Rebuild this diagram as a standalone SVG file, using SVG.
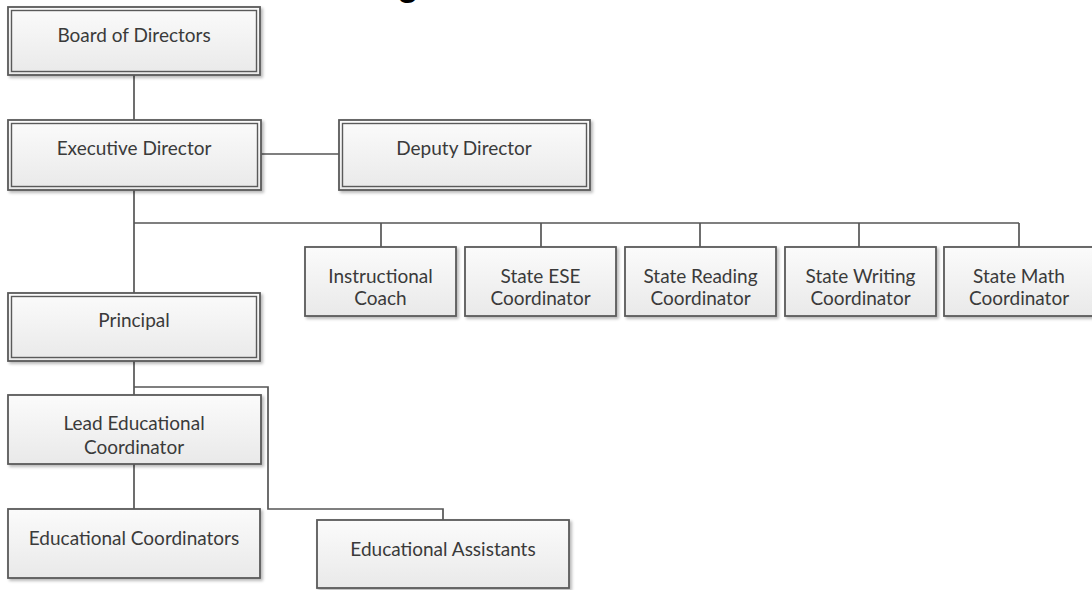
<svg xmlns="http://www.w3.org/2000/svg" width="1092" height="590" viewBox="0 0 1092 590">
  <defs>
    <linearGradient id="boxFill" x1="0" y1="0" x2="0" y2="1">
      <stop offset="0" stop-color="#fbfbfb"/>
      <stop offset="1" stop-color="#e9e9e9"/>
    </linearGradient>
    <filter id="shadow" x="-10%" y="-10%" width="125%" height="130%">
      <feDropShadow dx="2" dy="2" stdDeviation="1.5" flood-color="#000" flood-opacity="0.28"/>
    </filter>
    <style>
      .box { fill: url(#boxFill); stroke: #5a5a5a; stroke-width: 1.8; filter: url(#shadow); }
      .inner { fill: none; stroke: #5a5a5a; stroke-width: 1.4; }
      .label { font-family: Lato, "Liberation Sans", sans-serif; font-size: 19px; fill: #3a3a3a; text-anchor: middle; }
      .conn { fill: none; stroke: #555; stroke-width: 1.7; }
      .title { font-family: "Liberation Sans", Arial, sans-serif; font-weight: bold; font-size: 36px; fill: #000; }
    </style>
  </defs>

  <rect width="1092" height="590" fill="#fff"/>

  <!-- chart heading, sitting above the top edge -->
  <text class="title" x="397" y="-5">g</text>

  <!-- connectors -->
  <g id="connectors">
    <path class="conn" d="M134 75 V120"/>
    <path class="conn" d="M261 154 H339"/>
    <path class="conn" d="M134 190 V293"/>
    <path class="conn" d="M134 223 H1019"/>
    <path class="conn" d="M381 223 V247"/>
    <path class="conn" d="M541 223 V247"/>
    <path class="conn" d="M700 223 V247"/>
    <path class="conn" d="M859 223 V247"/>
    <path class="conn" d="M1019 223 V247"/>
    <path class="conn" d="M134 361 V395"/>
    <path class="conn" d="M134 387 H268 V509 H443 V520"/>
    <path class="conn" d="M134 464 V509"/>
  </g>

  <!-- double-bordered leadership boxes -->
  <g id="board">
    <rect class="box" x="8" y="7" width="252" height="68"/>
    <rect class="inner" x="11.5" y="10.5" width="245" height="61"/>
    <text class="label" x="134" y="42">Board of Directors</text>
  </g>
  <g id="executive">
    <rect class="box" x="8" y="120" width="253" height="70"/>
    <rect class="inner" x="11.5" y="123.5" width="246" height="63"/>
    <text class="label" x="134" y="155">Executive Director</text>
  </g>
  <g id="deputy">
    <rect class="box" x="339" y="120" width="251" height="70"/>
    <rect class="inner" x="342.5" y="123.5" width="244" height="63"/>
    <text class="label" x="464" y="155">Deputy Director</text>
  </g>
  <g id="principal">
    <rect class="box" x="8" y="293" width="252" height="68"/>
    <rect class="inner" x="11.5" y="296.5" width="245" height="61"/>
    <text class="label" x="134" y="327">Principal</text>
  </g>

  <!-- state-level staff -->
  <g id="instructional-coach">
    <rect class="box" x="305" y="247" width="151" height="69"/>
    <text class="label" x="380.5" y="283">Instructional</text>
    <text class="label" x="380.5" y="305">Coach</text>
  </g>
  <g id="state-ese">
    <rect class="box" x="465" y="247" width="151" height="69"/>
    <text class="label" x="540.5" y="283">State ESE</text>
    <text class="label" x="540.5" y="305">Coordinator</text>
  </g>
  <g id="state-reading">
    <rect class="box" x="625" y="247" width="151" height="69"/>
    <text class="label" x="700.5" y="283">State Reading</text>
    <text class="label" x="700.5" y="305">Coordinator</text>
  </g>
  <g id="state-writing">
    <rect class="box" x="785" y="247" width="151" height="69"/>
    <text class="label" x="860.5" y="283">State Writing</text>
    <text class="label" x="860.5" y="305">Coordinator</text>
  </g>
  <g id="state-math">
    <rect class="box" x="944" y="247" width="152" height="69"/>
    <text class="label" x="1019" y="283">State Math</text>
    <text class="label" x="1019" y="305">Coordinator</text>
  </g>

  <!-- school staff -->
  <g id="lead-coordinator">
    <rect class="box" x="8" y="395" width="253" height="69"/>
    <text class="label" x="134" y="430">Lead Educational</text>
    <text class="label" x="134" y="454">Coordinator</text>
  </g>
  <g id="educational-coordinators">
    <rect class="box" x="8" y="509" width="252" height="69"/>
    <text class="label" x="134" y="545">Educational Coordinators</text>
  </g>
  <g id="educational-assistants">
    <rect class="box" x="317" y="520" width="252" height="68"/>
    <text class="label" x="443" y="556">Educational Assistants</text>
  </g>
</svg>
